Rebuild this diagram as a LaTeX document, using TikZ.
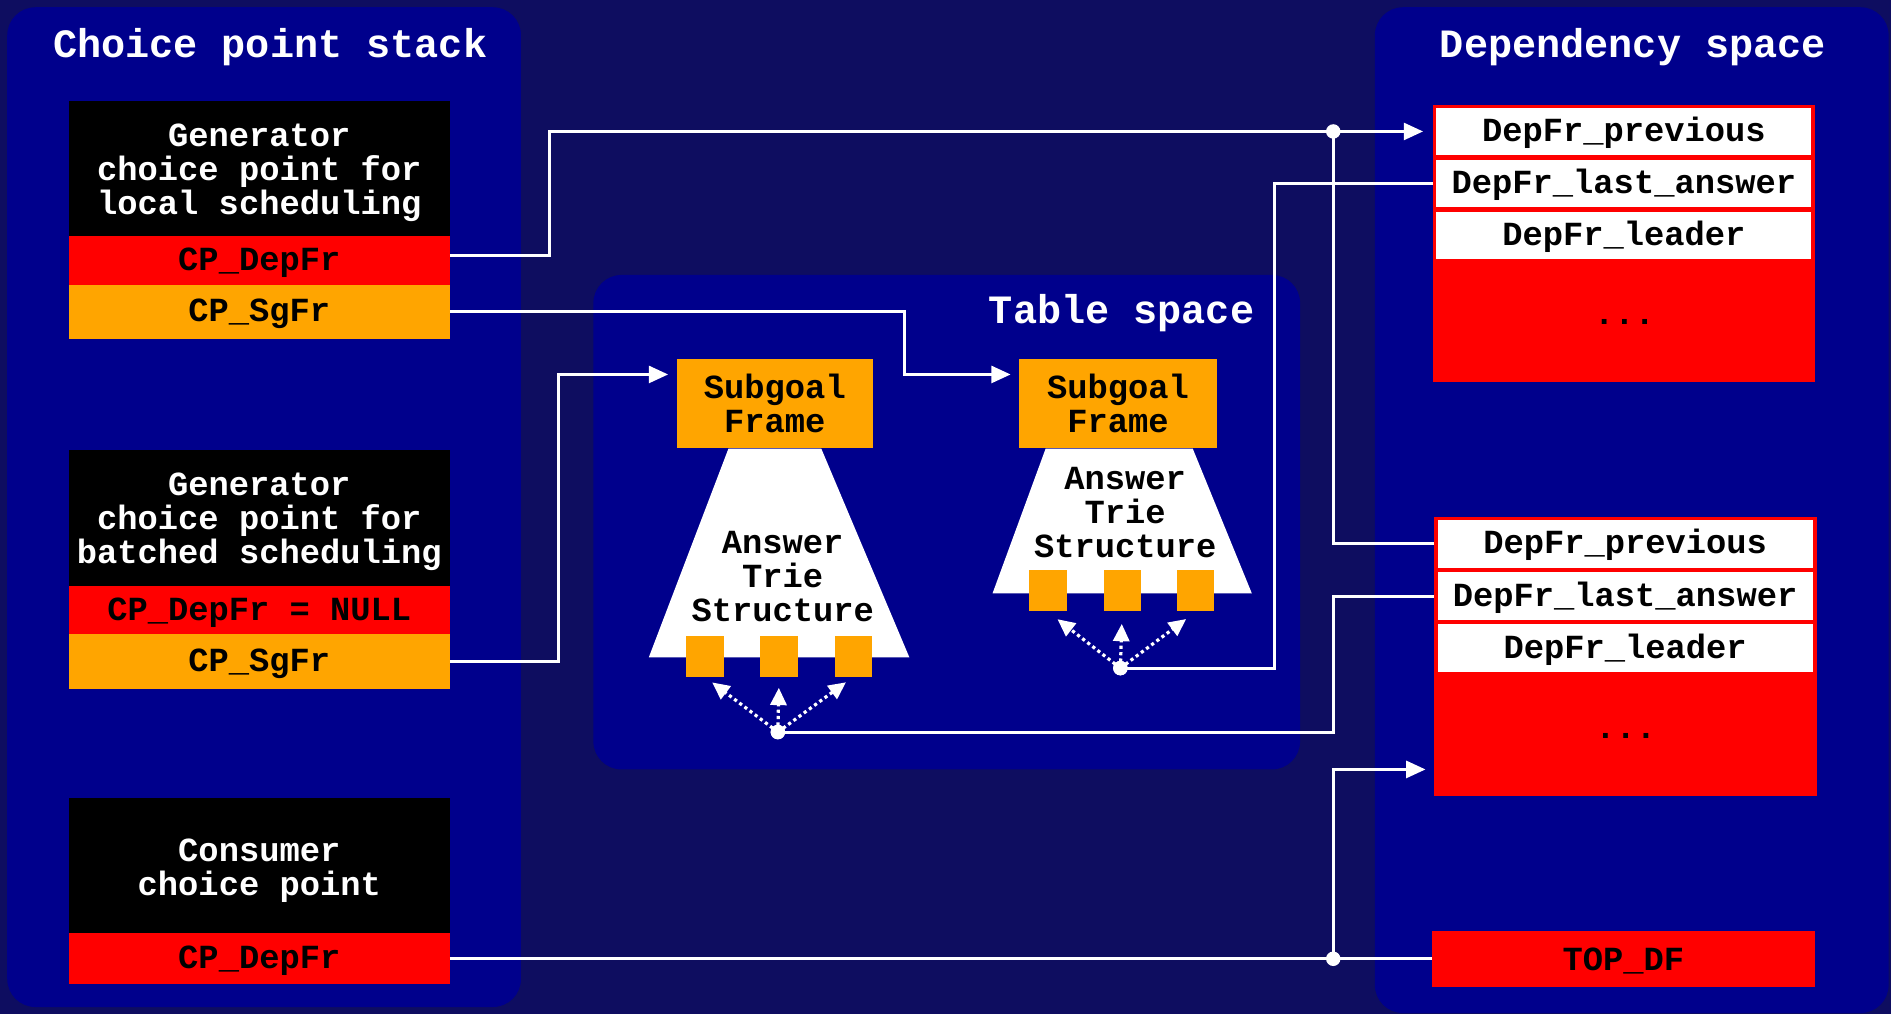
\documentclass[tikz,border=0pt]{standalone}
\usepackage{fontspec}
\newfontfamily\monof{Liberation Mono}
\usetikzlibrary{arrows.meta,calc}
\definecolor{bgc}{RGB}{14,13,96}
\definecolor{panelc}{RGB}{0,0,140}
\definecolor{orangec}{RGB}{255,165,0}
\definecolor{redc}{RGB}{255,0,0}
\newcommand\fieldfont{\monof\bfseries\fontsize{16.8}{16.8}\selectfont}
\newcommand\ttlfont{\monof\bfseries\fontsize{20}{20}\selectfont}
\newcommand\lowstrut{\rule{0pt}{15.2pt}}
\begin{document}
\begin{tikzpicture}[x=0.6pt,y=-0.6pt,
  fld/.style={rectangle, inner sep=0pt, outer sep=0pt, font=\fieldfont, align=center},
  lowtxt/.style={execute at begin node={\rule{0pt}{13.4pt}}},
  blackbox/.style={fld, fill=black, text=white, minimum width=189.6pt},
  redbox/.style={fld, lowtxt, fill=redc, text=black, minimum width=189.6pt},
  orbox/.style={fld, lowtxt, fill=orangec, text=black, minimum width=189.6pt},
  wbox/.style={fld, lowtxt, fill=white, text=black, minimum width=186.6pt},
  sgbox/.style={fld, fill=orangec, text=black, minimum height=44.4pt},
  sqbox/.style={rectangle, fill=orangec, inner sep=0pt, minimum width=18.6pt, minimum height=20.4pt},
  trie/.style={fld, text=black},
  ttl/.style={inner sep=0pt, text=white, font=\ttlfont},
  conn/.style={draw=white, line width=1.5pt},
  arr/.style={conn, -{Triangle[length=9.6pt,width=8.4pt]}},
  dotarr/.style={draw=white, line width=1.6pt, dash pattern=on 1.6pt off 1.6pt, -{Triangle[length=8.6pt,width=8pt]}},
  dot/.style={circle, fill=white, inner sep=0pt, minimum size=7.2pt}
]
\useasboundingbox (0,0) rectangle (1568,841);
\fill[bgc] (0,0) rectangle (1568,841);

% panels
\fill[panelc, rounded corners=14pt] (6,6) rectangle (432,835);
\fill[panelc, rounded corners=14pt] (492,228) rectangle (1078,638);
\fill[panelc, rounded corners=14pt] (1140,6) rectangle (1566,840);

% titles
\node[ttl] (tcps) at (224,39) {Choice point stack};
\node[ttl] (tts) at (930,259.5) {Table space};
\node[ttl] (tds) at (1354,39) {Dependency space};

% choice point stack
\node[blackbox, minimum height=67.2pt] (gen1) at (215,140) {\lowstrut Generator\\choice point for\\local scheduling};
\node[redbox, minimum height=24pt] (dep1) at (215,216) {CP\_DepFr};
\node[orbox, minimum height=27pt] (sg1) at (215,258.5) {CP\_SgFr};

\node[blackbox, minimum height=67.8pt] (gen2) at (215,429.5) {\lowstrut Generator\\choice point for\\batched scheduling};
\node[redbox, minimum height=24pt] (dep2) at (215,506) {CP\_DepFr = NULL};
\node[orbox, minimum height=27pt] (sg2) at (215,548.5) {CP\_SgFr};

\node[blackbox, minimum height=67.8pt] (cons) at (215,718.5) {\lowstrut Consumer\\choice point};
\node[redbox, minimum height=25.2pt] (dep3) at (215,795) {CP\_DepFr};

% table space
\fill[white] (604,372) -- (681,372) -- (754,545) -- (538,545) -- cycle;
\fill[white] (867,372) -- (989,372) -- (1038,492) -- (823,492) -- cycle;
\node[sgbox, minimum width=97.8pt] (sf1) at (642.5,334.5) {Subgoal\\Frame};
\node[sgbox, minimum width=98.4pt] (sf2) at (927,334.5) {Subgoal\\Frame};
\node[trie] (at1) at (649,478) {Answer\\Trie\\Structure};
\node[trie] (at2) at (933,425) {Answer\\Trie\\Structure};
\node[sqbox] (sq11) at (584.5,544) {};
\node[sqbox] (sq12) at (646,544) {};
\node[sqbox] (sq13) at (707.5,544) {};
\node[sqbox] (sq21) at (869,490) {};
\node[sqbox] (sq22) at (930.5,490) {};
\node[sqbox] (sq23) at (991.5,490) {};

% dependency space
\node[fld, fill=redc, minimum width=190.2pt, minimum height=138pt] (f1) at (1346.5,202) {};
\node[wbox, minimum height=23.4pt] (prev1) at (1346.5,109) {DepFr\_previous};
\node[wbox, minimum height=23.4pt] (last1) at (1346.5,152.1) {DepFr\_last\_answer};
\node[wbox, minimum height=23.4pt] (lead1) at (1346.5,195.3) {DepFr\_leader};
\node[fld] (ell1) at (1347,267) {...};

\node[fld, fill=redc, minimum width=190.8pt, minimum height=138.6pt] (f2) at (1348,544.5) {};
\node[wbox, minimum height=24pt] (prev2) at (1347.5,451) {DepFr\_previous};
\node[wbox, minimum height=24pt] (last2) at (1347.5,494.5) {DepFr\_last\_answer};
\node[wbox, minimum height=24pt] (lead2) at (1347.5,537.5) {DepFr\_leader};
\node[fld] (ell2) at (1348,610) {...};

\node[redbox, minimum width=190.8pt, minimum height=27.6pt] (topdf) at (1346,795) {TOP\_DF};

% helper coordinates
\coordinate (k1) at (456,0);
\coordinate (k2) at (750,0);
\coordinate (k3) at (463,0);
\coordinate (k4) at (1105.5,0);
\coordinate (k5) at (1057,0);
\coordinate (sf1in) at ([yshift=14.4pt]sf1.west);
\coordinate (sf2in) at ([yshift=14.4pt]sf2.west);
\coordinate (f2in) at ([yshift=-56.1pt]f2.west);

% connectors
\draw[arr, shorten >=6.6pt] ([yshift=2.7pt]dep1.east) -| (k1 |- prev1.west) -- (prev1.west);
\draw[arr, shorten >=4.2pt] (sg1.east) -| (k2 |- sf2in) -- (sf2in);
\draw[arr, shorten >=4.2pt] (sg2.east) -| (k3 |- sf1in) -- (sf1in);
\draw[conn] (dep3.east) -- (topdf.west);
\node[dot] (jd1) at (k4 |- prev1.west) {};
\node[dot] (jd3) at (k4 |- topdf.west) {};
\draw[conn] (prev2.west -| f2.west) -| (jd1.center);
\draw[arr, shorten >=4.2pt] (jd3.center) |- (f2in);

\node[dot] (j1) at (645,607) {};
\node[dot] (j2) at (929,554) {};
\draw[conn] (j1.center) -| (k4 |- last2.west) -- (last2.west -| f2.west);
\draw[conn] (j2.center) -| (k5 |- last1.west) -- (last1.west -| f1.west);

\draw[dotarr, shorten >=4.5pt] (j1.center) -- (sq11.south);
\draw[dotarr, shorten >=5.4pt] (j1.center) -- (sq12.south);
\draw[dotarr, shorten >=4.5pt] (j1.center) -- (sq13.south);
\draw[dotarr, shorten >=6pt] (j2.center) -- (sq21.south);
\draw[dotarr, shorten >=6pt] (j2.center) -- (sq22.south);
\draw[dotarr, shorten >=6pt] (j2.center) -- (sq23.south);
\node[dot] at (j1) {};
\node[dot] at (j2) {};
\end{tikzpicture}
\end{document}
